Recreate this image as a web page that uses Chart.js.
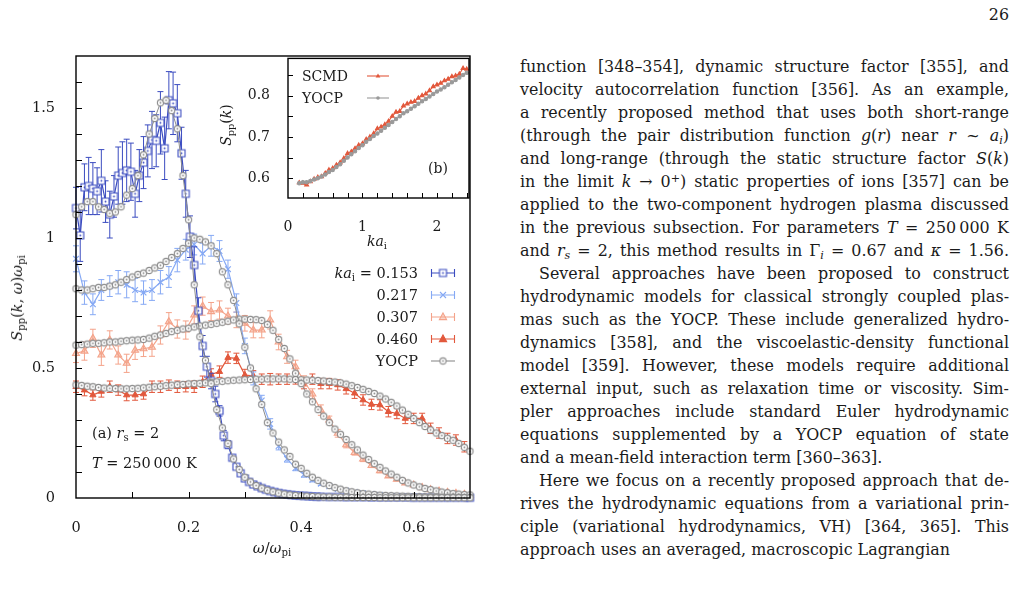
<!DOCTYPE html>
<html>
<head>
<meta charset="utf-8">
<script src="https://cdn.jsdelivr.net/npm/chart.js@4.4.1/dist/chart.umd.min.js"></script>
<style>
  body { margin:0; background:#fff; width:1015px; height:593px; overflow:hidden; position:relative;
         font-family:"DejaVu Serif", "Liberation Serif", serif; color:#1a1a1a; }
  .abs { position:absolute; white-space:nowrap; }
  sub { font-size:70%; vertical-align:-0.28em; line-height:0; }
  sup { font-size:70%; vertical-align:0.45em; line-height:0; }
  .lbl { font-size:14.5px; }
  .ib { font-size:14px; }
  #text { position:absolute; left:520px; top:55px; width:489px; font-size:15.9px; }
  #text div { height:23px; line-height:23px; white-space:nowrap; text-align:justify; text-align-last:justify; }
  #text div.end { text-align-last:left; }
  #text div.ind { padding-left:19px; }
</style>
</head>
<body>
<canvas id="main" class="abs" width="500" height="593" style="left:0;top:0"></canvas>
<canvas id="inset" class="abs" width="275" height="215" style="left:200px;top:40px"></canvas>

<!-- axis titles, panel (a) -->
<div class="abs lbl" style="left:17px;top:298px;transform:translate(-50%,-50%) rotate(-90deg)"><i>S</i><sub>pp</sub>(<i>k</i>, <i>ω</i>)<i>ω</i><sub>pi</sub></div>
<div class="abs lbl" style="left:272px;top:548px;transform:translate(-50%,-50%)"><i>ω</i>/<i>ω</i><sub>pi</sub></div>
<div class="abs lbl" style="left:92px;top:433px;transform:translateY(-50%)">(a) <i>r</i><sub>s</sub> = 2</div>
<div class="abs lbl" style="left:92px;top:463px;transform:translateY(-50%)"><i>T</i> = 250&#8201;000 K</div>

<!-- legend, panel (a) -->
<div class="abs lbl" style="right:597px;top:273px;transform:translateY(-50%)"><i>ka</i><sub>i</sub> = 0.153</div>
<div class="abs lbl" style="right:597px;top:295px;transform:translateY(-50%)">0.217</div>
<div class="abs lbl" style="right:597px;top:317px;transform:translateY(-50%)">0.307</div>
<div class="abs lbl" style="right:597px;top:339px;transform:translateY(-50%)">0.460</div>
<div class="abs lbl" style="right:597px;top:361px;transform:translateY(-50%)">YOCP</div>
<canvas id="lg0" class="abs" width="26" height="12" style="left:430px;top:267px"></canvas>
<canvas id="lg1" class="abs" width="26" height="12" style="left:430px;top:289px"></canvas>
<canvas id="lg2" class="abs" width="26" height="12" style="left:430px;top:311px"></canvas>
<canvas id="lg3" class="abs" width="26" height="12" style="left:430px;top:333px"></canvas>
<canvas id="lg4" class="abs" width="26" height="12" style="left:430px;top:355px"></canvas>

<!-- inset (b) texts -->
<div class="abs ib" style="left:226px;top:125px;transform:translate(-50%,-50%) rotate(-90deg)"><i>S</i><sub>pp</sub>(<i>k</i>)</div>
<div class="abs ib" style="left:377px;top:241px;transform:translate(-50%,-50%)"><i>ka</i><sub>i</sub></div>
<div class="abs ib" style="left:428px;top:168px;transform:translateY(-50%)">(b)</div>
<div class="abs ib" style="left:302px;top:76px;transform:translateY(-50%)">SCMD</div>
<div class="abs ib" style="left:302px;top:98px;transform:translateY(-50%)">YOCP</div>
<canvas id="lgb0" class="abs" width="24" height="10" style="left:366px;top:71px"></canvas>
<canvas id="lgb1" class="abs" width="24" height="10" style="left:366px;top:93px"></canvas>

<div class="abs" style="font-size:15.9px;right:6px;top:5px">26</div>

<div id="text">
  <div>function [348–354], dynamic structure factor [355], and</div>
  <div>velocity autocorrelation function [356]. As an example,</div>
  <div>a recently proposed method that uses both short-range</div>
  <div>(through the pair distribution function <i>g</i>(<i>r</i>) near <i>r</i> ~ <i>a<sub>i</sub></i>)</div>
  <div>and long-range (through the static structure factor <i>S</i>(<i>k</i>)</div>
  <div>in the limit <i>k</i> → 0<sup>+</sup>) static properties of ions [357] can be</div>
  <div>applied to the two-component hydrogen plasma discussed</div>
  <div>in the previous subsection. For parameters <i>T</i> = 250&#8201;000 K</div>
  <div>and <i>r<sub>s</sub></i> = 2, this method results in Γ<sub><i>i</i></sub> = 0.67 and <i>κ</i> = 1.56.</div>
  <div class="ind">Several approaches have been proposed to construct</div>
  <div>hydrodynamic models for classical strongly coupled plas-</div>
  <div>mas such as the YOCP. These include generalized hydro-</div>
  <div>dynamics [358], and the viscoelastic-density functional</div>
  <div>model [359]. However, these models require additional</div>
  <div>external input, such as relaxation time or viscosity. Sim-</div>
  <div>pler approaches include standard Euler hydrodynamic</div>
  <div>equations supplemented by a YOCP equation of state</div>
  <div class="end">and a mean-field interaction term [360–363].</div>
  <div class="ind">Here we focus on a recently proposed approach that de-</div>
  <div>rives the hydrodynamic equations from a variational prin-</div>
  <div>ciple (variational hydrodynamics, VH) [364, 365]. This</div>
  <div class="end">approach uses an averaged, macroscopic Lagrangian</div>
</div>

<script>
// ---- panel (a): S_pp(k, w) for four ka_i values, MD with error bars ----
const w153 = [0, 0.0075, 0.015, 0.0225, 0.03, 0.0375, 0.045, 0.0525, 0.06, 0.0675, 0.075, 0.0825, 0.09, 0.0975,
  0.105, 0.1125, 0.12, 0.1275, 0.135, 0.1425, 0.15, 0.1575, 0.165, 0.1725, 0.18, 0.1875, 0.195, 0.2025, 0.21,
  0.2175, 0.225, 0.2325, 0.24, 0.2475, 0.255, 0.2625, 0.27, 0.2775, 0.285, 0.2925, 0.3, 0.3075, 0.315, 0.3225,
  0.33, 0.3375, 0.345, 0.3525, 0.36, 0.3675, 0.375, 0.3825, 0.39, 0.3975, 0.405, 0.4125, 0.42, 0.4275, 0.435,
  0.45, 0.465, 0.48, 0.495, 0.51, 0.525, 0.54, 0.555, 0.57, 0.585, 0.6, 0.615, 0.63, 0.645, 0.66, 0.675, 0.69, 0.7];
const s153 = [1.115, 1.01, 1.195, 1.20, 1.19, 1.18, 1.22, 1.14, 1.09, 1.16, 1.24, 1.25, 1.26, 1.255,
  1.17, 1.24, 1.29, 1.335, 1.377, 1.374, 1.443, 1.345, 1.53, 1.518, 1.48, 1.326, 1.17, 1.005, 0.896,
  0.72, 0.585, 0.505, 0.45, 0.40, 0.335, 0.24, 0.205, 0.155, 0.12, 0.095, 0.075, 0.062, 0.052, 0.045,
  0.038, 0.032, 0.027, 0.023, 0.019, 0.016, 0.014, 0.012, 0.010, 0.009, 0.008, 0.007, 0.006, 0.005, 0.005,
  0.004, 0.004, 0.003, 0.003, 0.003, 0.002, 0.002, 0.002, 0.002, 0.002, 0.001, 0.001, 0.001, 0.001, 0.001, 0.001, 0.001, 0.001];
const e153 = [0.08, 0.10, 0.09, 0.11, 0.10, 0.09, 0.12, 0.08, 0.09, 0.08, 0.11, 0.12, 0.12, 0.11,
  0.09, 0.10, 0.10, 0.10, 0.11, 0.10, 0.12, 0.12, 0.11, 0.12, 0.11, 0.10, 0.09, 0.08, 0.07,
  0.05, 0.04, 0.04, 0.03, 0.03, 0.02, 0.02, 0.015, 0.01, 0.01, 0.01, 0.005];

const wMD = [0, 0.015, 0.03, 0.045, 0.06, 0.075, 0.09, 0.105, 0.12, 0.135, 0.15, 0.165, 0.18, 0.195, 0.21,
  0.225, 0.24, 0.255, 0.27, 0.285, 0.3, 0.315, 0.33, 0.345, 0.36, 0.375, 0.39, 0.405, 0.42, 0.435, 0.45,
  0.465, 0.48, 0.495, 0.51, 0.525, 0.54, 0.555, 0.57, 0.585, 0.6, 0.615, 0.63, 0.645, 0.66, 0.675, 0.69];
const s217 = [0.92, 0.79, 0.745, 0.80, 0.815, 0.83, 0.82, 0.80, 0.79, 0.80, 0.83, 0.85, 0.915, 0.955, 0.975,
  0.94, 0.97, 0.95, 0.88, 0.75, 0.585, 0.46, 0.375, 0.285, 0.20, 0.15, 0.115, 0.09, 0.07, 0.055, 0.045,
  0.035, 0.028, 0.022, 0.018, 0.015, 0.012, 0.010, 0.008, 0.007, 0.006, 0.005, 0.004, 0.004, 0.003, 0.003, 0.002];
const e217 = [0.05, 0.045, 0.04, 0.04, 0.04, 0.045, 0.05, 0.045, 0.045, 0.04, 0.045, 0.04, 0.045, 0.04, 0.04,
  0.04, 0.04, 0.04, 0.035, 0.035, 0.03, 0.025, 0.02, 0.02, 0.015, 0.012, 0.01, 0.01, 0.008, 0.006];
const s307 = [0.556, 0.565, 0.614, 0.55, 0.608, 0.55, 0.518, 0.568, 0.574, 0.58, 0.627, 0.678, 0.65, 0.646, 0.704,
  0.738, 0.717, 0.723, 0.70, 0.685, 0.672, 0.646, 0.646, 0.685, 0.60, 0.543, 0.505, 0.45, 0.40, 0.338, 0.30,
  0.249, 0.205, 0.175, 0.15, 0.125, 0.105, 0.085, 0.072, 0.058, 0.05, 0.04, 0.032, 0.027, 0.022, 0.018, 0.014];
const e307 = [0.035, 0.035, 0.035, 0.04, 0.035, 0.035, 0.035, 0.035, 0.03, 0.035, 0.035, 0.035, 0.035, 0.035, 0.035,
  0.035, 0.035, 0.035, 0.03, 0.03, 0.03, 0.03, 0.03, 0.035, 0.03, 0.025, 0.025, 0.02, 0.02, 0.02, 0.015,
  0.015, 0.012, 0.01, 0.01, 0.008, 0.008, 0.006, 0.006, 0.005];
const s460 = [0.428, 0.415, 0.396, 0.41, 0.428, 0.415, 0.396, 0.396, 0.40, 0.428, 0.428, 0.434, 0.428, 0.428, 0.428,
  0.447, 0.475, 0.486, 0.54, 0.537, 0.473, 0.47, 0.457, 0.457, 0.457, 0.457, 0.46, 0.44, 0.457, 0.44, 0.44,
  0.435, 0.42, 0.403, 0.377, 0.36, 0.358, 0.332, 0.325, 0.306, 0.306, 0.306, 0.268, 0.25, 0.229, 0.223, 0.197];
const e460 = [0.022, 0.022, 0.02, 0.022, 0.022, 0.02, 0.022, 0.02, 0.02, 0.022, 0.022, 0.02, 0.022, 0.02, 0.022,
  0.022, 0.022, 0.022, 0.022, 0.02, 0.022, 0.02, 0.02, 0.022, 0.02, 0.02, 0.022, 0.02, 0.02, 0.02, 0.02,
  0.02, 0.02, 0.02, 0.02, 0.02, 0.02, 0.02, 0.02, 0.02, 0.02, 0.02, 0.02, 0.02, 0.02, 0.02, 0.02];

// YOCP reference curves
const wY = [0, 0.01, 0.02, 0.03, 0.04, 0.05, 0.06, 0.07, 0.08, 0.09, 0.1, 0.11, 0.12, 0.13, 0.14, 0.15, 0.16,
  0.17, 0.18, 0.19, 0.2, 0.21, 0.22, 0.23, 0.24, 0.25, 0.26, 0.27, 0.28, 0.29, 0.3, 0.31, 0.32, 0.33, 0.34,
  0.35, 0.36, 0.37, 0.38, 0.39, 0.4, 0.41, 0.42, 0.43, 0.44, 0.45, 0.46, 0.47, 0.48, 0.49, 0.5, 0.51, 0.52,
  0.53, 0.54, 0.55, 0.56, 0.57, 0.58, 0.59, 0.6, 0.61, 0.62, 0.63, 0.64, 0.65, 0.66, 0.67, 0.68, 0.69, 0.7];
const y153 = [1.09, 1.12, 1.14, 1.14, 1.12, 1.11, 1.095, 1.10, 1.12, 1.165,
  1.19, 1.24, 1.32, 1.40, 1.46, 1.52, 1.53, 1.49, 1.42, 1.24,
  1.07, 0.82, 0.62, 0.53, 0.44, 0.34, 0.27, 0.21, 0.15, 0.11,
  0.08, 0.062, 0.048, 0.038, 0.030, 0.024, 0.019, 0.015, 0.012, 0.010,
  0.008, 0.007, 0.006, 0.005, 0.004, 0.004, 0.003, 0.003, 0.003, 0.002,
  0.002, 0.002, 0.002, 0.002, 0.001, 0.001, 0.001, 0.001, 0.001, 0.001,
  0.001, 0.001, 0.001, 0.001, 0.001, 0.001, 0.001, 0.001, 0.001, 0.001, 0.001];
const y217 = [0.805, 0.80, 0.80, 0.805, 0.81, 0.81, 0.815, 0.82, 0.83, 0.84,
  0.85, 0.86, 0.865, 0.875, 0.885, 0.895, 0.91, 0.925, 0.94, 0.96,
  0.98, 1.0, 0.995, 0.985, 0.97, 0.94, 0.87, 0.82, 0.76, 0.67,
  0.58, 0.50, 0.42, 0.36, 0.29, 0.25, 0.215, 0.185, 0.16, 0.13,
  0.114, 0.095, 0.08, 0.068, 0.057, 0.048, 0.04, 0.034, 0.028, 0.024,
  0.02, 0.017, 0.015, 0.013, 0.011, 0.010, 0.009, 0.008, 0.007, 0.0065,
  0.006, 0.0055, 0.005, 0.0045, 0.004, 0.0035, 0.003, 0.003, 0.0025, 0.002, 0.002];
const y307 = [0.588, 0.59, 0.592, 0.595, 0.595, 0.597, 0.60, 0.60, 0.603, 0.605,
  0.607, 0.608, 0.61, 0.615, 0.622, 0.627, 0.633, 0.64, 0.645, 0.65,
  0.653, 0.658, 0.662, 0.665, 0.668, 0.672, 0.676, 0.68, 0.685, 0.688,
  0.688, 0.687, 0.686, 0.683, 0.668, 0.645, 0.61, 0.575, 0.535, 0.48,
  0.44, 0.40, 0.37, 0.34, 0.315, 0.29, 0.265, 0.245, 0.225, 0.205,
  0.185, 0.165, 0.148, 0.132, 0.118, 0.104, 0.092, 0.08, 0.068, 0.058,
  0.05, 0.043, 0.037, 0.032, 0.027, 0.023, 0.02, 0.017, 0.015, 0.013, 0.012];
const y460 = [0.435, 0.433, 0.43, 0.428, 0.425, 0.423, 0.422, 0.421, 0.42, 0.42,
  0.421, 0.422, 0.424, 0.426, 0.428, 0.43, 0.432, 0.434, 0.436, 0.437,
  0.439, 0.44, 0.441, 0.443, 0.445, 0.447, 0.449, 0.451, 0.453, 0.454,
  0.455, 0.456, 0.457, 0.457, 0.458, 0.458, 0.458, 0.458, 0.457, 0.456,
  0.455, 0.454, 0.453, 0.452, 0.45, 0.448, 0.446, 0.443, 0.438, 0.432,
  0.425, 0.418, 0.41, 0.402, 0.392, 0.381, 0.368, 0.354, 0.338, 0.322,
  0.306, 0.29, 0.275, 0.262, 0.25, 0.24, 0.23, 0.222, 0.21, 0.195, 0.18];

const xTicksA = [0, 0.2, 0.4, 0.6];
const yTicksA = [0, 0.5, 1, 1.5];

// ---- inset (b): static structure factor S_pp(k) ----
const kB = [0.15, 0.2, 0.25, 0.3, 0.35, 0.4, 0.45, 0.5, 0.55, 0.6, 0.65, 0.7, 0.75, 0.8, 0.85, 0.9, 0.95,
  1.0, 1.05, 1.1, 1.15, 1.2, 1.25, 1.3, 1.35, 1.4, 1.45, 1.5, 1.55, 1.6, 1.65, 1.7, 1.75, 1.8, 1.85, 1.9,
  1.95, 2.0, 2.05, 2.1, 2.15, 2.2, 2.25, 2.3, 2.35, 2.4];
const scmdB = [0.589, 0.588, 0.584, 0.592, 0.598, 0.602, 0.604, 0.612, 0.620, 0.624, 0.632, 0.638, 0.648, 0.660,
  0.664, 0.672, 0.680, 0.684, 0.694, 0.700, 0.708, 0.720, 0.724, 0.730, 0.738, 0.750, 0.760, 0.762, 0.775,
  0.780, 0.784, 0.786, 0.794, 0.800, 0.804, 0.812, 0.822, 0.826, 0.830, 0.836, 0.840, 0.846, 0.848, 0.852,
  0.866, 0.864];
const yocpB = [0.588, 0.590, 0.590, 0.593, 0.597, 0.600, 0.604, 0.609, 0.615, 0.620, 0.627, 0.634, 0.642, 0.650,
  0.658, 0.665, 0.673, 0.680, 0.688, 0.695, 0.702, 0.708, 0.715, 0.722, 0.729, 0.736, 0.743, 0.750, 0.757,
  0.762, 0.768, 0.774, 0.780, 0.786, 0.792, 0.798, 0.804, 0.810, 0.815, 0.820, 0.826, 0.832, 0.838, 0.844,
  0.850, 0.855];
const xTicksB = [0, 1, 2];
const yTicksB = [0.6, 0.7, 0.8];

const C153 = '#3b4cc0', C217 = '#86a9f4', C307 = '#f4a38a', C460 = '#e2583c', CY = '#8c8c8c';
const FONT = '"DejaVu Serif", "Liberation Serif", serif';

function pts(xs, ys) {
  return ys.map((y, i) => ({ x: xs[i], y: y }));
}

// open square / circle markers with a dot in the middle
function markerImg(kind, color, r) {
  const c = document.createElement('canvas');
  const s = Math.ceil(r * 2 + 4);
  c.width = c.height = s;
  const g = c.getContext('2d');
  const m = s / 2;
  g.lineWidth = 1.1;
  g.strokeStyle = color;
  g.fillStyle = '#fff';
  g.beginPath();
  if (kind === 'square') g.rect(m - r, m - r, 2 * r, 2 * r);
  else g.arc(m, m, r, 0, Math.PI * 2);
  g.fill();
  g.stroke();
  g.fillStyle = color;
  g.beginPath();
  g.arc(m, m, 0.9, 0, Math.PI * 2);
  g.fill();
  return c;
}
const sqMark = markerImg('square', C153, 3.5);
const ciMark = markerImg('circle', CY, 3.1);

const errorBars = {
  id: 'errorBars',
  beforeDatasetDraw(chart, args) {
    const ds = chart.data.datasets[args.index];
    if (!ds.err) return;
    const ys = chart.scales.y, ctx = chart.ctx;
    ctx.save();
    ctx.strokeStyle = ds.borderColor;
    ctx.lineWidth = 1;
    args.meta.data.forEach((p, i) => {
      const e = ds.err[i];
      if (!e) return;
      const v = ds.data[i].y;
      const y1 = ys.getPixelForValue(v + e), y2 = ys.getPixelForValue(v - e);
      ctx.beginPath();
      ctx.moveTo(p.x, y1); ctx.lineTo(p.x, y2);
      ctx.moveTo(p.x - 3, y1); ctx.lineTo(p.x + 3, y1);
      ctx.moveTo(p.x - 3, y2); ctx.lineTo(p.x + 3, y2);
      ctx.stroke();
    });
    ctx.restore();
  }
};

// box around the plot and inward ticks
const frame = {
  id: 'frame',
  beforeDraw(chart, args, opts) {
    if (!opts.fill) return;
    const a = chart.chartArea, ctx = chart.ctx;
    ctx.save();
    ctx.fillStyle = '#fff';
    ctx.fillRect(a.left, a.top, a.right - a.left, a.bottom - a.top);
    ctx.restore();
  },
  afterDraw(chart, args, opts) {
    const a = chart.chartArea, ctx = chart.ctx;
    const x = chart.scales.x, y = chart.scales.y;
    ctx.save();
    ctx.strokeStyle = '#000';
    ctx.lineWidth = 1;
    ctx.beginPath();
    for (let v = opts.xStep; v < x.max - 1e-9; v += opts.xStep) {
      const px = Math.round(x.getPixelForValue(v)) + 0.5;
      ctx.moveTo(px, a.bottom); ctx.lineTo(px, a.bottom - opts.len);
    }
    for (let v = y.min + opts.yStart; v < y.max - 1e-9; v += opts.yStep) {
      const py = Math.round(y.getPixelForValue(v)) + 0.5;
      ctx.moveTo(a.left, py); ctx.lineTo(a.left + opts.len, py);
    }
    ctx.stroke();
    ctx.lineWidth = 1.4;
    ctx.strokeRect(a.left, a.top, a.right - a.left, a.bottom - a.top);
    ctx.restore();
  }
};

const tickFont = (size) => ({ family: FONT, size: size });

new Chart(document.getElementById('main'), {
  type: 'scatter',
  data: {
    datasets: [
      { data: pts(wY, y153), borderColor: CY, borderWidth: 1, pointStyle: ciMark, showLine: true },
      { data: pts(wY, y217), borderColor: CY, borderWidth: 1, pointStyle: ciMark, showLine: true },
      { data: pts(wY, y307), borderColor: CY, borderWidth: 1, pointStyle: ciMark, showLine: true },
      { data: pts(wY, y460), borderColor: CY, borderWidth: 1, pointStyle: ciMark, showLine: true },
      { data: pts(w153, s153), err: e153, borderColor: C153, borderWidth: 1.2, pointStyle: sqMark, showLine: true },
      { data: pts(wMD, s217), err: e217, borderColor: C217, borderWidth: 1.2, pointStyle: 'crossRot',
        pointRadius: 4, pointBorderWidth: 1.2, showLine: true },
      { data: pts(wMD, s307), err: e307, borderColor: C307, backgroundColor: 'rgba(244,163,138,0.45)',
        borderWidth: 1.2, pointStyle: 'triangle', pointRadius: 4, pointBorderWidth: 1.1, showLine: true },
      { data: pts(wMD, s460), err: e460, borderColor: C460, backgroundColor: C460, borderWidth: 1.2,
        pointStyle: 'triangle', pointRadius: 3.6, pointBorderWidth: 1, showLine: true }
    ]
  },
  options: {
    responsive: false,
    animation: false,
    devicePixelRatio: 1,
    clip: false,
    layout: { padding: { top: 56, right: 30, left: 0, bottom: 0 } },
    plugins: {
      legend: { display: false },
      tooltip: { enabled: false },
      frame: { xStep: 0.1, yStart: 0.1, yStep: 0.1, len: 6 }
    },
    scales: {
      x: {
        type: 'linear', min: 0, max: 0.7,
        grid: { display: false }, border: { display: false },
        afterBuildTicks: s => { s.ticks = xTicksA.map(v => ({ value: v })); },
        afterFit: s => { s.height = 95; },
        ticks: { font: tickFont(14.5), color: '#1a1a1a', padding: 14, autoSkip: false, maxRotation: 0,
                 callback: v => String(v) }
      },
      y: {
        type: 'linear', min: 0, max: 1.7,
        grid: { display: false }, border: { display: false },
        afterBuildTicks: s => { s.ticks = yTicksA.map(v => ({ value: v })); },
        afterFit: s => { s.width = 76; },
        ticks: { font: tickFont(14.5), color: '#1a1a1a', padding: 13, autoSkip: false,
                 callback: v => String(v) }
      }
    }
  },
  plugins: [errorBars, frame]
});

new Chart(document.getElementById('inset'), {
  type: 'scatter',
  data: {
    datasets: [
      { data: pts(kB, yocpB), borderColor: '#9a9a9a', backgroundColor: '#9a9a9a', borderWidth: 1.1,
        pointStyle: 'circle', pointRadius: 1.7, showLine: true },
      { data: pts(kB, scmdB), borderColor: C460, backgroundColor: C460, borderWidth: 1.1,
        pointStyle: 'triangle', pointRadius: 2.2, showLine: true }
    ]
  },
  options: {
    responsive: false,
    animation: false,
    devicePixelRatio: 1,
    layout: { padding: { top: 16, right: 6, left: 0, bottom: 0 } },
    plugins: {
      legend: { display: false },
      tooltip: { enabled: false },
      frame: { xStep: 0.2, yStart: 0.048, yStep: 0.05, len: 5, fill: true }
    },
    scales: {
      x: {
        type: 'linear', min: 0, max: 2.43,
        grid: { display: false }, border: { display: false },
        afterBuildTicks: s => { s.ticks = xTicksB.map(v => ({ value: v })); },
        afterFit: s => { s.height = 57; },
        ticks: { font: tickFont(14), color: '#1a1a1a', padding: 13, autoSkip: false, maxRotation: 0,
                 callback: v => String(v) }
      },
      y: {
        type: 'linear', min: 0.552, max: 0.89,
        grid: { display: false }, border: { display: false },
        afterBuildTicks: s => { s.ticks = yTicksB.map(v => ({ value: v })); },
        afterFit: s => { s.width = 88; },
        ticks: { font: tickFont(14), color: '#1a1a1a', padding: 10, autoSkip: false,
                 callback: v => String(v) }
      }
    }
  },
  plugins: [frame]
});

// legend icons
function icon(id, color, mark, withErr, fill) {
  const c = document.getElementById(id), g = c.getContext('2d');
  const h = c.height / 2, w = c.width;
  g.strokeStyle = color;
  g.lineWidth = 1.1;
  g.beginPath();
  g.moveTo(1, h); g.lineTo(w - 1, h);
  if (withErr) {
    g.moveTo(1.5, h - 4); g.lineTo(1.5, h + 4);
    g.moveTo(w - 1.5, h - 4); g.lineTo(w - 1.5, h + 4);
  }
  g.stroke();
  const m = w / 2;
  if (mark instanceof HTMLCanvasElement) {
    g.drawImage(mark, m - mark.width / 2, h - mark.height / 2);
  } else if (mark === 'cross') {
    g.beginPath();
    g.moveTo(m - 3, h - 3); g.lineTo(m + 3, h + 3);
    g.moveTo(m - 3, h + 3); g.lineTo(m + 3, h - 3);
    g.stroke();
  } else if (mark === 'tri') {
    g.fillStyle = fill;
    g.beginPath();
    g.moveTo(m, h - 4); g.lineTo(m + 3.6, h + 2.6); g.lineTo(m - 3.6, h + 2.6); g.closePath();
    g.fill(); g.stroke();
  } else if (mark === 'dot') {
    g.fillStyle = color;
    g.beginPath(); g.arc(m, h, 1.8, 0, Math.PI * 2); g.fill();
  } else if (mark === 'smalltri') {
    g.fillStyle = color;
    g.beginPath();
    g.moveTo(m, h - 2.6); g.lineTo(m + 2.4, h + 1.6); g.lineTo(m - 2.4, h + 1.6); g.closePath();
    g.fill();
  }
}
icon('lg0', C153, sqMark, true);
icon('lg1', C217, 'cross', true);
icon('lg2', C307, 'tri', true, 'rgba(244,163,138,0.45)');
icon('lg3', C460, 'tri', true, C460);
icon('lg4', CY, ciMark, false);
icon('lgb0', C460, 'smalltri', false);
icon('lgb1', '#9a9a9a', 'dot', false);
</script>
</body>
</html>
